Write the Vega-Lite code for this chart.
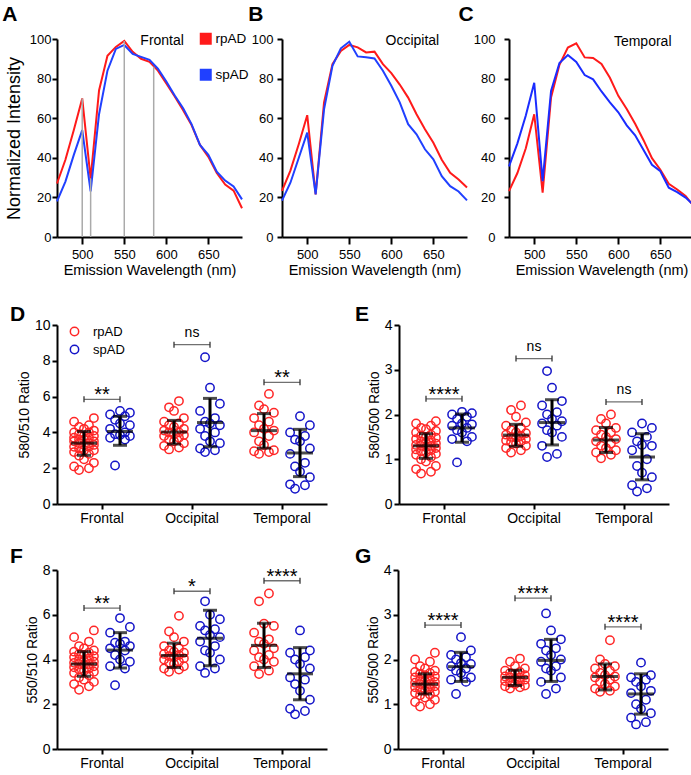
{
"$schema": "https://vega.github.io/schema/vega-lite/v6.json",
"padding": {"left": 2, "top": 4, "right": 0, "bottom": 0},
"config": {
  "view": {"stroke": null},
  "font": "Liberation Sans",
  "axis": {"grid": false, "labelOverlap": false, "domainColor": "black", "tickColor": "black", "domainWidth": 2, "tickWidth": 2, "labelColor": "black", "titleColor": "black", "titleFontWeight": "normal"},
  "title": {"anchor": "start", "frame": "group", "fontSize": 21, "fontWeight": "bold", "font": "Liberation Sans", "baseline": "alphabetic", "color": "black"}
},
"datasets": {
  "A": [
    {"group":"rpAD","wl":470,"v":27},{"group":"rpAD","wl":480,"v":39},{"group":"rpAD","wl":490,"v":54},{"group":"rpAD","wl":500,"v":70},{"group":"rpAD","wl":510,"v":29.5},{"group":"rpAD","wl":520,"v":74},{"group":"rpAD","wl":530,"v":91.5},{"group":"rpAD","wl":540,"v":96},{"group":"rpAD","wl":550,"v":99},{"group":"rpAD","wl":560,"v":93.5},{"group":"rpAD","wl":570,"v":90},{"group":"rpAD","wl":580,"v":88.5},{"group":"rpAD","wl":590,"v":84},{"group":"rpAD","wl":600,"v":77.5},{"group":"rpAD","wl":610,"v":71},{"group":"rpAD","wl":620,"v":64},{"group":"rpAD","wl":630,"v":56.5},{"group":"rpAD","wl":640,"v":46.5},{"group":"rpAD","wl":650,"v":40.5},{"group":"rpAD","wl":660,"v":32.3},{"group":"rpAD","wl":670,"v":26.5},{"group":"rpAD","wl":680,"v":23.4},{"group":"rpAD","wl":690,"v":14.5},
    {"group":"spAD","wl":470,"v":18},{"group":"spAD","wl":480,"v":28},{"group":"spAD","wl":490,"v":41.5},{"group":"spAD","wl":500,"v":54},{"group":"spAD","wl":510,"v":23},{"group":"spAD","wl":520,"v":62},{"group":"spAD","wl":530,"v":84},{"group":"spAD","wl":540,"v":95},{"group":"spAD","wl":550,"v":97},{"group":"spAD","wl":560,"v":92.5},{"group":"spAD","wl":570,"v":91},{"group":"spAD","wl":580,"v":89.5},{"group":"spAD","wl":590,"v":85},{"group":"spAD","wl":600,"v":78.5},{"group":"spAD","wl":610,"v":71.5},{"group":"spAD","wl":620,"v":65},{"group":"spAD","wl":630,"v":57},{"group":"spAD","wl":640,"v":46.5},{"group":"spAD","wl":650,"v":41.5},{"group":"spAD","wl":660,"v":33},{"group":"spAD","wl":670,"v":28.5},{"group":"spAD","wl":680,"v":25.5},{"group":"spAD","wl":690,"v":19}
  ],
  "Amarks": [{"wl":500,"top":70},{"wl":510,"top":29.5},{"wl":550,"top":99},{"wl":585,"top":86}],
  "B": [
    {"group":"rpAD","wl":470,"v":23.3},{"group":"rpAD","wl":480,"v":33.5},{"group":"rpAD","wl":490,"v":47},{"group":"rpAD","wl":500,"v":61.5},{"group":"rpAD","wl":510,"v":21.5},{"group":"rpAD","wl":520,"v":68},{"group":"rpAD","wl":530,"v":87.3},{"group":"rpAD","wl":540,"v":94},{"group":"rpAD","wl":550,"v":97},{"group":"rpAD","wl":560,"v":95.8},{"group":"rpAD","wl":570,"v":93.2},{"group":"rpAD","wl":580,"v":93.6},{"group":"rpAD","wl":590,"v":87.3},{"group":"rpAD","wl":600,"v":82.8},{"group":"rpAD","wl":610,"v":77},{"group":"rpAD","wl":620,"v":70.4},{"group":"rpAD","wl":630,"v":62},{"group":"rpAD","wl":640,"v":54.4},{"group":"rpAD","wl":650,"v":47.6},{"group":"rpAD","wl":660,"v":39},{"group":"rpAD","wl":670,"v":32.4},{"group":"rpAD","wl":680,"v":29},{"group":"rpAD","wl":690,"v":25},
    {"group":"spAD","wl":470,"v":18.4},{"group":"spAD","wl":480,"v":27.4},{"group":"spAD","wl":490,"v":40},{"group":"spAD","wl":500,"v":52.7},{"group":"spAD","wl":510,"v":21.5},{"group":"spAD","wl":520,"v":64.5},{"group":"spAD","wl":530,"v":86.5},{"group":"spAD","wl":540,"v":95.3},{"group":"spAD","wl":550,"v":98.6},{"group":"spAD","wl":560,"v":91.2},{"group":"spAD","wl":570,"v":90.8},{"group":"spAD","wl":580,"v":90.2},{"group":"spAD","wl":590,"v":84},{"group":"spAD","wl":600,"v":76.4},{"group":"spAD","wl":610,"v":68},{"group":"spAD","wl":620,"v":57},{"group":"spAD","wl":630,"v":51.9},{"group":"spAD","wl":640,"v":44.3},{"group":"spAD","wl":650,"v":39.2},{"group":"spAD","wl":660,"v":30.7},{"group":"spAD","wl":670,"v":25.7},{"group":"spAD","wl":680,"v":23},{"group":"spAD","wl":690,"v":18.5}
  ],
  "C": [
    {"group":"rpAD","wl":470,"v":23.2},{"group":"rpAD","wl":480,"v":32.3},{"group":"rpAD","wl":490,"v":44.8},{"group":"rpAD","wl":500,"v":62},{"group":"rpAD","wl":510,"v":22.4},{"group":"rpAD","wl":520,"v":70.5},{"group":"rpAD","wl":530,"v":87},{"group":"rpAD","wl":540,"v":95.7},{"group":"rpAD","wl":550,"v":97.8},{"group":"rpAD","wl":560,"v":90.7},{"group":"rpAD","wl":570,"v":90.4},{"group":"rpAD","wl":580,"v":87.4},{"group":"rpAD","wl":590,"v":80.4},{"group":"rpAD","wl":600,"v":71.3},{"group":"rpAD","wl":610,"v":64.7},{"group":"rpAD","wl":620,"v":57.2},{"group":"rpAD","wl":630,"v":48.9},{"group":"rpAD","wl":640,"v":39.8},{"group":"rpAD","wl":650,"v":34},{"group":"rpAD","wl":660,"v":26.9},{"group":"rpAD","wl":670,"v":24},{"group":"rpAD","wl":680,"v":20.7},{"group":"rpAD","wl":690,"v":15.4},
    {"group":"spAD","wl":470,"v":35.7},{"group":"spAD","wl":480,"v":47.3},{"group":"spAD","wl":490,"v":61.4},{"group":"spAD","wl":500,"v":77.9},{"group":"spAD","wl":510,"v":28.2},{"group":"spAD","wl":520,"v":73.8},{"group":"spAD","wl":530,"v":87.9},{"group":"spAD","wl":540,"v":91.9},{"group":"spAD","wl":550,"v":88.4},{"group":"spAD","wl":560,"v":81.8},{"group":"spAD","wl":570,"v":79.6},{"group":"spAD","wl":580,"v":73.5},{"group":"spAD","wl":590,"v":68},{"group":"spAD","wl":600,"v":63},{"group":"spAD","wl":610,"v":56.4},{"group":"spAD","wl":620,"v":51.4},{"group":"spAD","wl":630,"v":43.9},{"group":"spAD","wl":640,"v":36.5},{"group":"spAD","wl":650,"v":33.2},{"group":"spAD","wl":660,"v":24.9},{"group":"spAD","wl":670,"v":22.7},{"group":"spAD","wl":680,"v":19.9},{"group":"spAD","wl":690,"v":16}
  ],
  "D": [
    {"region":"Frontal","group":"rpAD","value":1.9},{"region":"Frontal","group":"rpAD","value":2.0},{"region":"Frontal","group":"rpAD","value":2.1},{"region":"Frontal","group":"rpAD","value":2.3},{"region":"Frontal","group":"rpAD","value":2.5},{"region":"Frontal","group":"rpAD","value":2.7},{"region":"Frontal","group":"rpAD","value":2.8},{"region":"Frontal","group":"rpAD","value":2.9},{"region":"Frontal","group":"rpAD","value":3.0},{"region":"Frontal","group":"rpAD","value":3.0},{"region":"Frontal","group":"rpAD","value":3.1},{"region":"Frontal","group":"rpAD","value":3.2},{"region":"Frontal","group":"rpAD","value":3.2},{"region":"Frontal","group":"rpAD","value":3.3},{"region":"Frontal","group":"rpAD","value":3.3},{"region":"Frontal","group":"rpAD","value":3.4},{"region":"Frontal","group":"rpAD","value":3.4},{"region":"Frontal","group":"rpAD","value":3.5},{"region":"Frontal","group":"rpAD","value":3.5},{"region":"Frontal","group":"rpAD","value":3.6},{"region":"Frontal","group":"rpAD","value":3.6},{"region":"Frontal","group":"rpAD","value":3.7},{"region":"Frontal","group":"rpAD","value":3.7},{"region":"Frontal","group":"rpAD","value":3.8},{"region":"Frontal","group":"rpAD","value":3.8},{"region":"Frontal","group":"rpAD","value":3.9},{"region":"Frontal","group":"rpAD","value":4.0},{"region":"Frontal","group":"rpAD","value":4.0},{"region":"Frontal","group":"rpAD","value":4.1},{"region":"Frontal","group":"rpAD","value":4.2},{"region":"Frontal","group":"rpAD","value":4.3},{"region":"Frontal","group":"rpAD","value":4.4},{"region":"Frontal","group":"rpAD","value":4.6},{"region":"Frontal","group":"rpAD","value":4.8},
    {"region":"Frontal","group":"spAD","value":2.15},{"region":"Frontal","group":"spAD","value":3.6},{"region":"Frontal","group":"spAD","value":3.7},{"region":"Frontal","group":"spAD","value":3.8},{"region":"Frontal","group":"spAD","value":3.85},{"region":"Frontal","group":"spAD","value":3.9},{"region":"Frontal","group":"spAD","value":4.0},{"region":"Frontal","group":"spAD","value":4.2},{"region":"Frontal","group":"spAD","value":4.4},{"region":"Frontal","group":"spAD","value":4.5},{"region":"Frontal","group":"spAD","value":4.7},{"region":"Frontal","group":"spAD","value":4.9},{"region":"Frontal","group":"spAD","value":5.0},{"region":"Frontal","group":"spAD","value":5.1},{"region":"Frontal","group":"spAD","value":5.2},
    {"region":"Occipital","group":"rpAD","value":3.05},{"region":"Occipital","group":"rpAD","value":3.15},{"region":"Occipital","group":"rpAD","value":3.25},{"region":"Occipital","group":"rpAD","value":3.4},{"region":"Occipital","group":"rpAD","value":3.5},{"region":"Occipital","group":"rpAD","value":3.6},{"region":"Occipital","group":"rpAD","value":3.7},{"region":"Occipital","group":"rpAD","value":3.8},{"region":"Occipital","group":"rpAD","value":3.85},{"region":"Occipital","group":"rpAD","value":3.9},{"region":"Occipital","group":"rpAD","value":4.0},{"region":"Occipital","group":"rpAD","value":4.0},{"region":"Occipital","group":"rpAD","value":4.1},{"region":"Occipital","group":"rpAD","value":4.2},{"region":"Occipital","group":"rpAD","value":4.3},{"region":"Occipital","group":"rpAD","value":4.4},{"region":"Occipital","group":"rpAD","value":4.5},{"region":"Occipital","group":"rpAD","value":4.6},{"region":"Occipital","group":"rpAD","value":4.8},{"region":"Occipital","group":"rpAD","value":5.2},{"region":"Occipital","group":"rpAD","value":5.4},{"region":"Occipital","group":"rpAD","value":5.75},
    {"region":"Occipital","group":"spAD","value":2.9},{"region":"Occipital","group":"spAD","value":3.0},{"region":"Occipital","group":"spAD","value":3.1},{"region":"Occipital","group":"spAD","value":3.4},{"region":"Occipital","group":"spAD","value":3.5},{"region":"Occipital","group":"spAD","value":3.8},{"region":"Occipital","group":"spAD","value":4.0},{"region":"Occipital","group":"spAD","value":4.2},{"region":"Occipital","group":"spAD","value":4.4},{"region":"Occipital","group":"spAD","value":4.5},{"region":"Occipital","group":"spAD","value":4.6},{"region":"Occipital","group":"spAD","value":4.8},{"region":"Occipital","group":"spAD","value":5.2},{"region":"Occipital","group":"spAD","value":5.6},{"region":"Occipital","group":"spAD","value":6.5},{"region":"Occipital","group":"spAD","value":8.2},
    {"region":"Temporal","group":"rpAD","value":2.8},{"region":"Temporal","group":"rpAD","value":2.9},{"region":"Temporal","group":"rpAD","value":2.95},{"region":"Temporal","group":"rpAD","value":3.0},{"region":"Temporal","group":"rpAD","value":3.3},{"region":"Temporal","group":"rpAD","value":3.5},{"region":"Temporal","group":"rpAD","value":3.8},{"region":"Temporal","group":"rpAD","value":4.0},{"region":"Temporal","group":"rpAD","value":4.1},{"region":"Temporal","group":"rpAD","value":4.2},{"region":"Temporal","group":"rpAD","value":4.4},{"region":"Temporal","group":"rpAD","value":4.6},{"region":"Temporal","group":"rpAD","value":4.8},{"region":"Temporal","group":"rpAD","value":5.1},{"region":"Temporal","group":"rpAD","value":5.3},{"region":"Temporal","group":"rpAD","value":5.5},{"region":"Temporal","group":"rpAD","value":6.15},
    {"region":"Temporal","group":"spAD","value":0.85},{"region":"Temporal","group":"spAD","value":1.05},{"region":"Temporal","group":"spAD","value":1.1},{"region":"Temporal","group":"spAD","value":1.5},{"region":"Temporal","group":"spAD","value":1.8},{"region":"Temporal","group":"spAD","value":2.1},{"region":"Temporal","group":"spAD","value":2.3},{"region":"Temporal","group":"spAD","value":2.8},{"region":"Temporal","group":"spAD","value":3.1},{"region":"Temporal","group":"spAD","value":3.5},{"region":"Temporal","group":"spAD","value":3.6},{"region":"Temporal","group":"spAD","value":3.8},{"region":"Temporal","group":"spAD","value":4.0},{"region":"Temporal","group":"spAD","value":4.4},{"region":"Temporal","group":"spAD","value":4.9}
  ],
  "Dsum": [
    {"region":"Frontal","group":"rpAD","mean":3.4,"lo":2.72,"hi":4.05},{"region":"Frontal","group":"spAD","mean":4.05,"lo":3.28,"hi":4.9},
    {"region":"Occipital","group":"rpAD","mean":4.02,"lo":3.35,"hi":4.67},{"region":"Occipital","group":"spAD","mean":4.55,"lo":3.2,"hi":5.9},
    {"region":"Temporal","group":"rpAD","mean":4.1,"lo":3.12,"hi":5.05},{"region":"Temporal","group":"spAD","mean":2.85,"lo":1.53,"hi":4.17}
  ],
  "Dbr": [{"region":"Frontal","level":5.85,"label":"**"},{"region":"Occipital","level":8.9,"label":"ns"},{"region":"Temporal","level":6.8,"label":"**"}],
  "E": [
    {"region":"Frontal","group":"rpAD","value":0.68},{"region":"Frontal","group":"rpAD","value":0.72},{"region":"Frontal","group":"rpAD","value":0.78},{"region":"Frontal","group":"rpAD","value":0.85},{"region":"Frontal","group":"rpAD","value":0.95},{"region":"Frontal","group":"rpAD","value":1.0},{"region":"Frontal","group":"rpAD","value":1.05},{"region":"Frontal","group":"rpAD","value":1.1},{"region":"Frontal","group":"rpAD","value":1.12},{"region":"Frontal","group":"rpAD","value":1.15},{"region":"Frontal","group":"rpAD","value":1.18},{"region":"Frontal","group":"rpAD","value":1.2},{"region":"Frontal","group":"rpAD","value":1.22},{"region":"Frontal","group":"rpAD","value":1.25},{"region":"Frontal","group":"rpAD","value":1.27},{"region":"Frontal","group":"rpAD","value":1.3},{"region":"Frontal","group":"rpAD","value":1.3},{"region":"Frontal","group":"rpAD","value":1.32},{"region":"Frontal","group":"rpAD","value":1.35},{"region":"Frontal","group":"rpAD","value":1.37},{"region":"Frontal","group":"rpAD","value":1.4},{"region":"Frontal","group":"rpAD","value":1.42},{"region":"Frontal","group":"rpAD","value":1.45},{"region":"Frontal","group":"rpAD","value":1.48},{"region":"Frontal","group":"rpAD","value":1.5},{"region":"Frontal","group":"rpAD","value":1.52},{"region":"Frontal","group":"rpAD","value":1.55},{"region":"Frontal","group":"rpAD","value":1.6},{"region":"Frontal","group":"rpAD","value":1.63},{"region":"Frontal","group":"rpAD","value":1.67},{"region":"Frontal","group":"rpAD","value":1.7},{"region":"Frontal","group":"rpAD","value":1.75},{"region":"Frontal","group":"rpAD","value":1.8},{"region":"Frontal","group":"rpAD","value":1.85},
    {"region":"Frontal","group":"spAD","value":0.93},{"region":"Frontal","group":"spAD","value":1.4},{"region":"Frontal","group":"spAD","value":1.45},{"region":"Frontal","group":"spAD","value":1.5},{"region":"Frontal","group":"spAD","value":1.6},{"region":"Frontal","group":"spAD","value":1.65},{"region":"Frontal","group":"spAD","value":1.7},{"region":"Frontal","group":"spAD","value":1.75},{"region":"Frontal","group":"spAD","value":1.78},{"region":"Frontal","group":"spAD","value":1.8},{"region":"Frontal","group":"spAD","value":1.9},{"region":"Frontal","group":"spAD","value":1.95},{"region":"Frontal","group":"spAD","value":2.0},{"region":"Frontal","group":"spAD","value":2.03},{"region":"Frontal","group":"spAD","value":2.06},
    {"region":"Occipital","group":"rpAD","value":1.15},{"region":"Occipital","group":"rpAD","value":1.2},{"region":"Occipital","group":"rpAD","value":1.25},{"region":"Occipital","group":"rpAD","value":1.3},{"region":"Occipital","group":"rpAD","value":1.35},{"region":"Occipital","group":"rpAD","value":1.38},{"region":"Occipital","group":"rpAD","value":1.4},{"region":"Occipital","group":"rpAD","value":1.42},{"region":"Occipital","group":"rpAD","value":1.45},{"region":"Occipital","group":"rpAD","value":1.48},{"region":"Occipital","group":"rpAD","value":1.5},{"region":"Occipital","group":"rpAD","value":1.52},{"region":"Occipital","group":"rpAD","value":1.55},{"region":"Occipital","group":"rpAD","value":1.58},{"region":"Occipital","group":"rpAD","value":1.6},{"region":"Occipital","group":"rpAD","value":1.65},{"region":"Occipital","group":"rpAD","value":1.7},{"region":"Occipital","group":"rpAD","value":1.75},{"region":"Occipital","group":"rpAD","value":1.82},{"region":"Occipital","group":"rpAD","value":1.95},{"region":"Occipital","group":"rpAD","value":2.1},{"region":"Occipital","group":"rpAD","value":2.2},
    {"region":"Occipital","group":"spAD","value":1.05},{"region":"Occipital","group":"spAD","value":1.12},{"region":"Occipital","group":"spAD","value":1.3},{"region":"Occipital","group":"spAD","value":1.5},{"region":"Occipital","group":"spAD","value":1.6},{"region":"Occipital","group":"spAD","value":1.65},{"region":"Occipital","group":"spAD","value":1.75},{"region":"Occipital","group":"spAD","value":1.8},{"region":"Occipital","group":"spAD","value":1.85},{"region":"Occipital","group":"spAD","value":1.9},{"region":"Occipital","group":"spAD","value":2.0},{"region":"Occipital","group":"spAD","value":2.05},{"region":"Occipital","group":"spAD","value":2.2},{"region":"Occipital","group":"spAD","value":2.3},{"region":"Occipital","group":"spAD","value":2.6},{"region":"Occipital","group":"spAD","value":2.97},
    {"region":"Temporal","group":"rpAD","value":1.02},{"region":"Temporal","group":"rpAD","value":1.1},{"region":"Temporal","group":"rpAD","value":1.15},{"region":"Temporal","group":"rpAD","value":1.2},{"region":"Temporal","group":"rpAD","value":1.25},{"region":"Temporal","group":"rpAD","value":1.3},{"region":"Temporal","group":"rpAD","value":1.35},{"region":"Temporal","group":"rpAD","value":1.4},{"region":"Temporal","group":"rpAD","value":1.45},{"region":"Temporal","group":"rpAD","value":1.5},{"region":"Temporal","group":"rpAD","value":1.55},{"region":"Temporal","group":"rpAD","value":1.6},{"region":"Temporal","group":"rpAD","value":1.65},{"region":"Temporal","group":"rpAD","value":1.7},{"region":"Temporal","group":"rpAD","value":1.8},{"region":"Temporal","group":"rpAD","value":1.9},{"region":"Temporal","group":"rpAD","value":2.0},
    {"region":"Temporal","group":"spAD","value":0.28},{"region":"Temporal","group":"spAD","value":0.35},{"region":"Temporal","group":"spAD","value":0.42},{"region":"Temporal","group":"spAD","value":0.6},{"region":"Temporal","group":"spAD","value":0.7},{"region":"Temporal","group":"spAD","value":0.85},{"region":"Temporal","group":"spAD","value":1.0},{"region":"Temporal","group":"spAD","value":1.2},{"region":"Temporal","group":"spAD","value":1.3},{"region":"Temporal","group":"spAD","value":1.32},{"region":"Temporal","group":"spAD","value":1.4},{"region":"Temporal","group":"spAD","value":1.5},{"region":"Temporal","group":"spAD","value":1.6},{"region":"Temporal","group":"spAD","value":1.7},{"region":"Temporal","group":"spAD","value":1.8}
  ],
  "Esum": [
    {"region":"Frontal","group":"rpAD","mean":1.3,"lo":1.02,"hi":1.57},{"region":"Frontal","group":"spAD","mean":1.7,"lo":1.38,"hi":2.01},
    {"region":"Occipital","group":"rpAD","mean":1.54,"lo":1.29,"hi":1.78},{"region":"Occipital","group":"spAD","mean":1.82,"lo":1.32,"hi":2.33},
    {"region":"Temporal","group":"rpAD","mean":1.43,"lo":1.15,"hi":1.71},{"region":"Temporal","group":"spAD","mean":1.05,"lo":0.54,"hi":1.57}
  ],
  "Ebr": [{"region":"Frontal","level":2.35,"label":"****"},{"region":"Occipital","level":3.25,"label":"ns"},{"region":"Temporal","level":2.28,"label":"ns"}],
  "F": [
    {"region":"Frontal","group":"rpAD","value":2.65},{"region":"Frontal","group":"rpAD","value":2.8},{"region":"Frontal","group":"rpAD","value":2.9},{"region":"Frontal","group":"rpAD","value":3.0},{"region":"Frontal","group":"rpAD","value":3.1},{"region":"Frontal","group":"rpAD","value":3.2},{"region":"Frontal","group":"rpAD","value":3.3},{"region":"Frontal","group":"rpAD","value":3.4},{"region":"Frontal","group":"rpAD","value":3.45},{"region":"Frontal","group":"rpAD","value":3.5},{"region":"Frontal","group":"rpAD","value":3.55},{"region":"Frontal","group":"rpAD","value":3.6},{"region":"Frontal","group":"rpAD","value":3.65},{"region":"Frontal","group":"rpAD","value":3.7},{"region":"Frontal","group":"rpAD","value":3.75},{"region":"Frontal","group":"rpAD","value":3.8},{"region":"Frontal","group":"rpAD","value":3.8},{"region":"Frontal","group":"rpAD","value":3.85},{"region":"Frontal","group":"rpAD","value":3.9},{"region":"Frontal","group":"rpAD","value":3.95},{"region":"Frontal","group":"rpAD","value":4.0},{"region":"Frontal","group":"rpAD","value":4.05},{"region":"Frontal","group":"rpAD","value":4.1},{"region":"Frontal","group":"rpAD","value":4.15},{"region":"Frontal","group":"rpAD","value":4.2},{"region":"Frontal","group":"rpAD","value":4.25},{"region":"Frontal","group":"rpAD","value":4.3},{"region":"Frontal","group":"rpAD","value":4.35},{"region":"Frontal","group":"rpAD","value":4.4},{"region":"Frontal","group":"rpAD","value":4.5},{"region":"Frontal","group":"rpAD","value":4.6},{"region":"Frontal","group":"rpAD","value":4.8},{"region":"Frontal","group":"rpAD","value":5.0},{"region":"Frontal","group":"rpAD","value":5.3},
    {"region":"Frontal","group":"spAD","value":2.85},{"region":"Frontal","group":"spAD","value":3.6},{"region":"Frontal","group":"spAD","value":3.7},{"region":"Frontal","group":"spAD","value":3.9},{"region":"Frontal","group":"spAD","value":4.0},{"region":"Frontal","group":"spAD","value":4.2},{"region":"Frontal","group":"spAD","value":4.4},{"region":"Frontal","group":"spAD","value":4.5},{"region":"Frontal","group":"spAD","value":4.6},{"region":"Frontal","group":"spAD","value":4.7},{"region":"Frontal","group":"spAD","value":4.75},{"region":"Frontal","group":"spAD","value":4.8},{"region":"Frontal","group":"spAD","value":5.2},{"region":"Frontal","group":"spAD","value":5.45},{"region":"Frontal","group":"spAD","value":5.85},
    {"region":"Occipital","group":"rpAD","value":3.45},{"region":"Occipital","group":"rpAD","value":3.55},{"region":"Occipital","group":"rpAD","value":3.6},{"region":"Occipital","group":"rpAD","value":3.7},{"region":"Occipital","group":"rpAD","value":3.8},{"region":"Occipital","group":"rpAD","value":3.85},{"region":"Occipital","group":"rpAD","value":3.9},{"region":"Occipital","group":"rpAD","value":4.0},{"region":"Occipital","group":"rpAD","value":4.05},{"region":"Occipital","group":"rpAD","value":4.1},{"region":"Occipital","group":"rpAD","value":4.15},{"region":"Occipital","group":"rpAD","value":4.2},{"region":"Occipital","group":"rpAD","value":4.25},{"region":"Occipital","group":"rpAD","value":4.3},{"region":"Occipital","group":"rpAD","value":4.35},{"region":"Occipital","group":"rpAD","value":4.4},{"region":"Occipital","group":"rpAD","value":4.5},{"region":"Occipital","group":"rpAD","value":4.6},{"region":"Occipital","group":"rpAD","value":4.8},{"region":"Occipital","group":"rpAD","value":5.0},{"region":"Occipital","group":"rpAD","value":5.25},{"region":"Occipital","group":"rpAD","value":5.95},
    {"region":"Occipital","group":"spAD","value":3.4},{"region":"Occipital","group":"spAD","value":3.6},{"region":"Occipital","group":"spAD","value":3.7},{"region":"Occipital","group":"spAD","value":4.0},{"region":"Occipital","group":"spAD","value":4.3},{"region":"Occipital","group":"spAD","value":4.4},{"region":"Occipital","group":"spAD","value":4.6},{"region":"Occipital","group":"spAD","value":4.8},{"region":"Occipital","group":"spAD","value":5.0},{"region":"Occipital","group":"spAD","value":5.1},{"region":"Occipital","group":"spAD","value":5.3},{"region":"Occipital","group":"spAD","value":5.35},{"region":"Occipital","group":"spAD","value":5.5},{"region":"Occipital","group":"spAD","value":5.8},{"region":"Occipital","group":"spAD","value":6.0},{"region":"Occipital","group":"spAD","value":6.6},
    {"region":"Temporal","group":"rpAD","value":3.35},{"region":"Temporal","group":"rpAD","value":3.5},{"region":"Temporal","group":"rpAD","value":3.7},{"region":"Temporal","group":"rpAD","value":3.9},{"region":"Temporal","group":"rpAD","value":4.0},{"region":"Temporal","group":"rpAD","value":4.1},{"region":"Temporal","group":"rpAD","value":4.2},{"region":"Temporal","group":"rpAD","value":4.4},{"region":"Temporal","group":"rpAD","value":4.5},{"region":"Temporal","group":"rpAD","value":4.7},{"region":"Temporal","group":"rpAD","value":4.8},{"region":"Temporal","group":"rpAD","value":4.9},{"region":"Temporal","group":"rpAD","value":5.2},{"region":"Temporal","group":"rpAD","value":5.5},{"region":"Temporal","group":"rpAD","value":5.6},{"region":"Temporal","group":"rpAD","value":6.6},{"region":"Temporal","group":"rpAD","value":6.95},
    {"region":"Temporal","group":"spAD","value":1.55},{"region":"Temporal","group":"spAD","value":1.7},{"region":"Temporal","group":"spAD","value":1.8},{"region":"Temporal","group":"spAD","value":2.2},{"region":"Temporal","group":"spAD","value":2.6},{"region":"Temporal","group":"spAD","value":2.9},{"region":"Temporal","group":"spAD","value":3.1},{"region":"Temporal","group":"spAD","value":3.2},{"region":"Temporal","group":"spAD","value":3.6},{"region":"Temporal","group":"spAD","value":3.8},{"region":"Temporal","group":"spAD","value":4.0},{"region":"Temporal","group":"spAD","value":4.1},{"region":"Temporal","group":"spAD","value":4.3},{"region":"Temporal","group":"spAD","value":4.4},{"region":"Temporal","group":"spAD","value":5.3}
  ],
  "Fsum": [
    {"region":"Frontal","group":"rpAD","mean":3.8,"lo":3.25,"hi":4.35},{"region":"Frontal","group":"spAD","mean":4.42,"lo":3.62,"hi":5.2},
    {"region":"Occipital","group":"rpAD","mean":4.18,"lo":3.64,"hi":4.73},{"region":"Occipital","group":"spAD","mean":4.95,"lo":3.72,"hi":6.2},
    {"region":"Temporal","group":"rpAD","mean":4.63,"lo":3.64,"hi":5.62},{"region":"Temporal","group":"spAD","mean":3.36,"lo":2.2,"hi":4.53}
  ],
  "Fbr": [{"region":"Frontal","level":6.3,"label":"**"},{"region":"Occipital","level":7.05,"label":"*"},{"region":"Temporal","level":7.52,"label":"****"}],
  "G": [
    {"region":"Frontal","group":"rpAD","value":0.95},{"region":"Frontal","group":"rpAD","value":1.0},{"region":"Frontal","group":"rpAD","value":1.05},{"region":"Frontal","group":"rpAD","value":1.1},{"region":"Frontal","group":"rpAD","value":1.15},{"region":"Frontal","group":"rpAD","value":1.2},{"region":"Frontal","group":"rpAD","value":1.22},{"region":"Frontal","group":"rpAD","value":1.25},{"region":"Frontal","group":"rpAD","value":1.28},{"region":"Frontal","group":"rpAD","value":1.3},{"region":"Frontal","group":"rpAD","value":1.32},{"region":"Frontal","group":"rpAD","value":1.35},{"region":"Frontal","group":"rpAD","value":1.38},{"region":"Frontal","group":"rpAD","value":1.4},{"region":"Frontal","group":"rpAD","value":1.42},{"region":"Frontal","group":"rpAD","value":1.45},{"region":"Frontal","group":"rpAD","value":1.45},{"region":"Frontal","group":"rpAD","value":1.48},{"region":"Frontal","group":"rpAD","value":1.5},{"region":"Frontal","group":"rpAD","value":1.52},{"region":"Frontal","group":"rpAD","value":1.55},{"region":"Frontal","group":"rpAD","value":1.57},{"region":"Frontal","group":"rpAD","value":1.6},{"region":"Frontal","group":"rpAD","value":1.62},{"region":"Frontal","group":"rpAD","value":1.65},{"region":"Frontal","group":"rpAD","value":1.68},{"region":"Frontal","group":"rpAD","value":1.7},{"region":"Frontal","group":"rpAD","value":1.72},{"region":"Frontal","group":"rpAD","value":1.75},{"region":"Frontal","group":"rpAD","value":1.8},{"region":"Frontal","group":"rpAD","value":1.85},{"region":"Frontal","group":"rpAD","value":1.95},{"region":"Frontal","group":"rpAD","value":2.0},{"region":"Frontal","group":"rpAD","value":2.15},
    {"region":"Frontal","group":"spAD","value":1.23},{"region":"Frontal","group":"spAD","value":1.5},{"region":"Frontal","group":"spAD","value":1.55},{"region":"Frontal","group":"spAD","value":1.6},{"region":"Frontal","group":"spAD","value":1.7},{"region":"Frontal","group":"spAD","value":1.75},{"region":"Frontal","group":"spAD","value":1.8},{"region":"Frontal","group":"spAD","value":1.85},{"region":"Frontal","group":"spAD","value":1.9},{"region":"Frontal","group":"spAD","value":1.92},{"region":"Frontal","group":"spAD","value":2.0},{"region":"Frontal","group":"spAD","value":2.05},{"region":"Frontal","group":"spAD","value":2.1},{"region":"Frontal","group":"spAD","value":2.2},{"region":"Frontal","group":"spAD","value":2.5},
    {"region":"Occipital","group":"rpAD","value":1.35},{"region":"Occipital","group":"rpAD","value":1.38},{"region":"Occipital","group":"rpAD","value":1.4},{"region":"Occipital","group":"rpAD","value":1.42},{"region":"Occipital","group":"rpAD","value":1.45},{"region":"Occipital","group":"rpAD","value":1.48},{"region":"Occipital","group":"rpAD","value":1.5},{"region":"Occipital","group":"rpAD","value":1.52},{"region":"Occipital","group":"rpAD","value":1.55},{"region":"Occipital","group":"rpAD","value":1.57},{"region":"Occipital","group":"rpAD","value":1.6},{"region":"Occipital","group":"rpAD","value":1.6},{"region":"Occipital","group":"rpAD","value":1.62},{"region":"Occipital","group":"rpAD","value":1.65},{"region":"Occipital","group":"rpAD","value":1.68},{"region":"Occipital","group":"rpAD","value":1.7},{"region":"Occipital","group":"rpAD","value":1.72},{"region":"Occipital","group":"rpAD","value":1.75},{"region":"Occipital","group":"rpAD","value":1.8},{"region":"Occipital","group":"rpAD","value":1.85},{"region":"Occipital","group":"rpAD","value":1.95},{"region":"Occipital","group":"rpAD","value":2.02},
    {"region":"Occipital","group":"spAD","value":1.23},{"region":"Occipital","group":"spAD","value":1.35},{"region":"Occipital","group":"spAD","value":1.5},{"region":"Occipital","group":"spAD","value":1.6},{"region":"Occipital","group":"spAD","value":1.75},{"region":"Occipital","group":"spAD","value":1.8},{"region":"Occipital","group":"spAD","value":1.85},{"region":"Occipital","group":"spAD","value":1.95},{"region":"Occipital","group":"spAD","value":2.0},{"region":"Occipital","group":"spAD","value":2.1},{"region":"Occipital","group":"spAD","value":2.2},{"region":"Occipital","group":"spAD","value":2.25},{"region":"Occipital","group":"spAD","value":2.35},{"region":"Occipital","group":"spAD","value":2.45},{"region":"Occipital","group":"spAD","value":2.65},{"region":"Occipital","group":"spAD","value":3.03},
    {"region":"Temporal","group":"rpAD","value":1.28},{"region":"Temporal","group":"rpAD","value":1.3},{"region":"Temporal","group":"rpAD","value":1.35},{"region":"Temporal","group":"rpAD","value":1.4},{"region":"Temporal","group":"rpAD","value":1.45},{"region":"Temporal","group":"rpAD","value":1.5},{"region":"Temporal","group":"rpAD","value":1.55},{"region":"Temporal","group":"rpAD","value":1.6},{"region":"Temporal","group":"rpAD","value":1.62},{"region":"Temporal","group":"rpAD","value":1.65},{"region":"Temporal","group":"rpAD","value":1.7},{"region":"Temporal","group":"rpAD","value":1.75},{"region":"Temporal","group":"rpAD","value":1.8},{"region":"Temporal","group":"rpAD","value":1.85},{"region":"Temporal","group":"rpAD","value":1.9},{"region":"Temporal","group":"rpAD","value":2.0},{"region":"Temporal","group":"rpAD","value":2.43},
    {"region":"Temporal","group":"spAD","value":0.55},{"region":"Temporal","group":"spAD","value":0.6},{"region":"Temporal","group":"spAD","value":0.7},{"region":"Temporal","group":"spAD","value":0.8},{"region":"Temporal","group":"spAD","value":0.9},{"region":"Temporal","group":"spAD","value":1.0},{"region":"Temporal","group":"spAD","value":1.1},{"region":"Temporal","group":"spAD","value":1.25},{"region":"Temporal","group":"spAD","value":1.3},{"region":"Temporal","group":"spAD","value":1.4},{"region":"Temporal","group":"spAD","value":1.5},{"region":"Temporal","group":"spAD","value":1.55},{"region":"Temporal","group":"spAD","value":1.6},{"region":"Temporal","group":"spAD","value":1.65},{"region":"Temporal","group":"spAD","value":1.93}
  ],
  "Gsum": [
    {"region":"Frontal","group":"rpAD","mean":1.45,"lo":1.23,"hi":1.68},{"region":"Frontal","group":"spAD","mean":1.84,"lo":1.51,"hi":2.16},
    {"region":"Occipital","group":"rpAD","mean":1.6,"lo":1.42,"hi":1.76},{"region":"Occipital","group":"spAD","mean":1.98,"lo":1.51,"hi":2.45},
    {"region":"Temporal","group":"rpAD","mean":1.62,"lo":1.32,"hi":1.9},{"region":"Temporal","group":"spAD","mean":1.23,"lo":0.78,"hi":1.68}
  ],
  "Gbr": [{"region":"Frontal","level":2.77,"label":"****"},{"region":"Occipital","level":3.37,"label":"****"},{"region":"Temporal","level":2.73,"label":"****"}]
},
"spacing": 27,
"vconcat": [
  {
    "hconcat": [
      {
        "width": 185, "height": 198,
        "layer": [
          {"data": {"name": "A"}, "mark": {"type": "line", "strokeWidth": 2},
           "encoding": {
             "x": {"field": "wl", "type": "quantitative", "scale": {"domain": [470, 690], "nice": false, "zero": false}, "axis": {"values": [500, 550, 600, 650], "tickCount": 12, "format": "d", "labelOverlap": false, "title": "Emission Wavelength (nm)", "titleFontSize": 14.5, "labelFontSize": 13, "tickSize": 7, "labelPadding": 4, "titlePadding": 2}},
             "y": {"field": "v", "type": "quantitative", "scale": {"domain": [0, 100]}, "axis": {"values": [0, 20, 40, 60, 80, 100], "tickCount": 12, "format": "d", "labelOverlap": false, "title": "Normalized Intensity", "titleFontSize": 18, "titlePadding": 6, "labelFontSize": 13, "tickSize": 5, "labelPadding": 1}},
             "color": {"field": "group", "type": "nominal", "scale": {"domain": ["rpAD", "spAD"], "range": ["#ff1a1a", "#2040ff"]}, "legend": {"orient": "none", "legendX": 142, "legendY": -7, "title": null, "symbolType": "square", "symbolSize": 25, "symbolStrokeWidth": 7, "labelFontSize": 13.5, "labelOffset": 3, "rowPadding": 2, "padding": 0}}
           }},
          {"data": {"name": "Amarks"}, "mark": {"type": "rule", "color": "#aaaaaa", "strokeWidth": 1.5},
           "encoding": {"x": {"field": "wl", "type": "quantitative"}, "y": {"field": "top", "type": "quantitative"}, "y2": {"datum": 0}}},
          {"data": {"values": [{}]}, "mark": {"type": "text", "fontSize": 14, "color": "black"},
           "encoding": {"x": {"datum": 595}, "y": {"datum": 99}, "text": {"value": "Frontal"}}},
          {"data": {"values": [{}]}, "mark": {"type": "text", "fontSize": 21, "fontWeight": "bold", "baseline": "alphabetic", "align": "center", "color": "black"},
           "encoding": {"x": {"datum": 414}, "y": {"datum": 109}, "text": {"value": "A"}}}
        ]
      },
      {
        "width": 185, "height": 198,
        "layer": [
          {"data": {"name": "B"}, "mark": {"type": "line", "strokeWidth": 2},
           "encoding": {
             "x": {"field": "wl", "type": "quantitative", "scale": {"domain": [470, 690], "nice": false, "zero": false}, "axis": {"values": [500, 550, 600, 650], "tickCount": 12, "format": "d", "labelOverlap": false, "title": "Emission Wavelength (nm)", "titleFontSize": 14.5, "labelFontSize": 13, "tickSize": 7, "labelPadding": 4, "titlePadding": 2}},
             "y": {"field": "v", "type": "quantitative", "scale": {"domain": [0, 100]}, "axis": {"values": [0, 20, 40, 60, 80, 100], "tickCount": 12, "format": "d", "labelOverlap": false, "title": null, "labelFontSize": 13, "tickSize": 5, "labelPadding": 4}},
             "color": {"field": "group", "type": "nominal", "scale": {"domain": ["rpAD", "spAD"], "range": ["#ff1a1a", "#2040ff"]}, "legend": null}
           }},
          {"data": {"values": [{}]}, "mark": {"type": "text", "fontSize": 14, "color": "black"},
           "encoding": {"x": {"datum": 625}, "y": {"datum": 99}, "text": {"value": "Occipital"}}},
          {"data": {"values": [{}]}, "mark": {"type": "text", "fontSize": 21, "fontWeight": "bold", "baseline": "alphabetic", "align": "center", "color": "black"},
           "encoding": {"x": {"datum": 439}, "y": {"datum": 109}, "text": {"value": "B"}}},
          {"data": {"values": [{}]}, "mark": {"type": "text", "fontSize": 21, "fontWeight": "bold", "baseline": "alphabetic", "align": "center", "color": "black"},
           "encoding": {"x": {"datum": 689}, "y": {"datum": 109}, "text": {"value": "C"}}}
        ]
      },
      {
        "width": 185, "height": 198,
        "layer": [
          {"data": {"name": "C"}, "mark": {"type": "line", "strokeWidth": 2},
           "encoding": {
             "x": {"field": "wl", "type": "quantitative", "scale": {"domain": [470, 690], "nice": false, "zero": false}, "axis": {"values": [500, 550, 600, 650], "tickCount": 12, "format": "d", "labelOverlap": false, "title": "Emission Wavelength (nm)", "titleFontSize": 14.5, "labelFontSize": 13, "tickSize": 7, "labelPadding": 4, "titlePadding": 2}},
             "y": {"field": "v", "type": "quantitative", "scale": {"domain": [0, 100]}, "axis": {"values": [0, 20, 40, 60, 80, 100], "tickCount": 12, "format": "d", "labelOverlap": false, "title": null, "labelFontSize": 13, "tickSize": 5, "labelPadding": 9}},
             "color": {"field": "group", "type": "nominal", "scale": {"domain": ["rpAD", "spAD"], "range": ["#ff1a1a", "#1a2cff"]}, "legend": null}
           }},
          {"data": {"values": [{}]}, "mark": {"type": "text", "fontSize": 14, "color": "black"},
           "encoding": {"x": {"datum": 629}, "y": {"datum": 98.5}, "text": {"value": "Temporal"}}}
        ]
      }
    ],
    "spacing": -1,
    "resolve": {"scale": {"color": "independent", "x": "independent", "y": "independent"}, "legend": {"color": "independent"}}
  },
  {
    "spacing": 21,
    "vconcat": [
      {
        "hconcat": [
          {
            "width": 270, "height": 179,
            "title": {"text": "D", "dx": -47, "offset": -7},
            "layer": [
              {"data": {"name": "D"},
               "transform": [{"window": [{"op": "row_number", "as": "k"}], "groupby": ["region", "group"], "sort": [{"field": "value"}]}, {"calculate": "(datum.group === 'rpAD' ? -0.2 : 0.2) + [0, -1, 1, -2, 2][datum.k % 5] * 0.055", "as": "off"}],
               "mark": {"type": "point", "filled": false, "size": 70, "strokeWidth": 1.5, "opacity": 1},
               "encoding": {
                 "x": {"field": "region", "type": "nominal", "scale": {"domain": ["Frontal", "Occipital", "Temporal"], "paddingInner": 0, "paddingOuter": 0}, "axis": {"title": null, "labelAngle": 0, "labelFontSize": 14, "tickSize": 5, "labelPadding": 2}},
                 "xOffset": {"field": "off", "type": "quantitative", "scale": {"domain": [-0.5, 0.5], "nice": false}},
                 "y": {"field": "value", "type": "quantitative", "scale": {"domain": [0, 10]}, "axis": {"values": [0, 2, 4, 6, 8, 10], "tickCount": 12, "format": "d", "labelOverlap": false, "title": "580/510 Ratio", "titleFontSize": 14, "titlePadding": 3, "labelFontSize": 14, "tickSize": 5, "labelPadding": 2}},
                 "color": {"field": "group", "type": "nominal", "scale": {"domain": ["rpAD", "spAD"], "range": ["#ff2626", "#1414c8"]}, "legend": {"orient": "none", "legendX": 11, "legendY": 0, "title": null, "symbolType": "circle", "symbolSize": 70, "symbolStrokeWidth": 1.5, "labelFontSize": 13, "labelOffset": 12, "rowPadding": 3, "padding": 0}}
               }},
              {"data": {"name": "Dsum"}, "transform": [{"calculate": "datum.group === 'rpAD' ? -0.2 : 0.2", "as": "off"}],
               "mark": {"type": "rule", "strokeWidth": 3, "color": "black"},
               "encoding": {"x": {"field": "region", "type": "nominal"}, "xOffset": {"field": "off", "type": "quantitative"}, "y": {"field": "lo", "type": "quantitative"}, "y2": {"field": "hi"}}},
              {"data": {"name": "Dsum"}, "transform": [{"calculate": "datum.group === 'rpAD' ? -0.2 : 0.2", "as": "off"}],
               "mark": {"type": "tick", "thickness": 3, "size": 26, "color": "black", "orient": "horizontal"},
               "encoding": {"x": {"field": "region", "type": "nominal"}, "xOffset": {"field": "off", "type": "quantitative"}, "y": {"field": "mean", "type": "quantitative"}}},
              {"data": {"name": "Dsum"}, "transform": [{"calculate": "datum.group === 'rpAD' ? -0.2 : 0.2", "as": "off"}, {"fold": ["lo", "hi"], "as": ["which", "capv"]}],
               "mark": {"type": "tick", "thickness": 3, "size": 14, "color": "black", "orient": "horizontal"},
               "encoding": {"x": {"field": "region", "type": "nominal"}, "xOffset": {"field": "off", "type": "quantitative"}, "y": {"field": "capv", "type": "quantitative"}}},
              {"data": {"name": "Dbr"}, "transform": [{"calculate": "0", "as": "off"}],
               "mark": {"type": "tick", "thickness": 1.3, "size": 36, "color": "#333333", "orient": "horizontal"},
               "encoding": {"x": {"field": "region", "type": "nominal"}, "xOffset": {"field": "off", "type": "quantitative"}, "y": {"field": "level", "type": "quantitative"}}},
              {"data": {"name": "Dbr"}, "transform": [{"calculate": "-0.2", "as": "a"}, {"calculate": "0.2", "as": "b"}, {"fold": ["a", "b"], "as": ["side", "off"]}],
               "mark": {"type": "rule", "strokeWidth": 1.3, "color": "#333333", "yOffset": -3, "y2Offset": 3},
               "encoding": {"x": {"field": "region", "type": "nominal"}, "xOffset": {"field": "off", "type": "quantitative"}, "y": {"field": "level", "type": "quantitative"}, "y2": {"field": "level"}}},
              {"data": {"name": "Dbr"}, "transform": [{"filter": "datum.label !== 'ns'"}, {"calculate": "0", "as": "off"}],
               "mark": {"type": "text", "fontSize": 20, "baseline": "alphabetic", "dy": 2, "color": "black"},
               "encoding": {"x": {"field": "region", "type": "nominal"}, "xOffset": {"field": "off", "type": "quantitative"}, "y": {"field": "level", "type": "quantitative"}, "text": {"field": "label"}}},
              {"data": {"name": "Dbr"}, "transform": [{"filter": "datum.label === 'ns'"}, {"calculate": "0", "as": "off"}],
               "mark": {"type": "text", "fontSize": 14, "baseline": "alphabetic", "dy": -8, "color": "black"},
               "encoding": {"x": {"field": "region", "type": "nominal"}, "xOffset": {"field": "off", "type": "quantitative"}, "y": {"field": "level", "type": "quantitative"}, "text": {"field": "label"}}}
            ]
          },
          {
            "width": 270, "height": 179,
            "title": {"text": "E", "dx": -44, "offset": -7},
            "layer": [
              {"data": {"name": "E"},
               "transform": [{"window": [{"op": "row_number", "as": "k"}], "groupby": ["region", "group"], "sort": [{"field": "value"}]}, {"calculate": "(datum.group === 'rpAD' ? -0.2 : 0.2) + [0, -1, 1, -2, 2][datum.k % 5] * 0.055", "as": "off"}],
               "mark": {"type": "point", "filled": false, "size": 70, "strokeWidth": 1.5, "opacity": 1},
               "encoding": {
                 "x": {"field": "region", "type": "nominal", "scale": {"domain": ["Frontal", "Occipital", "Temporal"], "paddingInner": 0, "paddingOuter": 0}, "axis": {"title": null, "labelAngle": 0, "labelFontSize": 14, "tickSize": 5, "labelPadding": 2}},
                 "xOffset": {"field": "off", "type": "quantitative", "scale": {"domain": [-0.5, 0.5], "nice": false}},
                 "y": {"field": "value", "type": "quantitative", "scale": {"domain": [0, 4]}, "axis": {"values": [0, 1, 2, 3, 4], "tickCount": 12, "format": "d", "labelOverlap": false, "title": "580/500 Ratio", "titleFontSize": 14, "titlePadding": 3, "labelFontSize": 14, "tickSize": 5, "labelPadding": 2}},
                 "color": {"field": "group", "type": "nominal", "scale": {"domain": ["rpAD", "spAD"], "range": ["#ff2626", "#1414c8"]}, "legend": null}
               }},
              {"data": {"name": "Esum"}, "transform": [{"calculate": "datum.group === 'rpAD' ? -0.2 : 0.2", "as": "off"}],
               "mark": {"type": "rule", "strokeWidth": 3, "color": "black"},
               "encoding": {"x": {"field": "region", "type": "nominal"}, "xOffset": {"field": "off", "type": "quantitative"}, "y": {"field": "lo", "type": "quantitative"}, "y2": {"field": "hi"}}},
              {"data": {"name": "Esum"}, "transform": [{"calculate": "datum.group === 'rpAD' ? -0.2 : 0.2", "as": "off"}],
               "mark": {"type": "tick", "thickness": 3, "size": 26, "color": "black", "orient": "horizontal"},
               "encoding": {"x": {"field": "region", "type": "nominal"}, "xOffset": {"field": "off", "type": "quantitative"}, "y": {"field": "mean", "type": "quantitative"}}},
              {"data": {"name": "Esum"}, "transform": [{"calculate": "datum.group === 'rpAD' ? -0.2 : 0.2", "as": "off"}, {"fold": ["lo", "hi"], "as": ["which", "capv"]}],
               "mark": {"type": "tick", "thickness": 3, "size": 14, "color": "black", "orient": "horizontal"},
               "encoding": {"x": {"field": "region", "type": "nominal"}, "xOffset": {"field": "off", "type": "quantitative"}, "y": {"field": "capv", "type": "quantitative"}}},
              {"data": {"name": "Ebr"}, "transform": [{"calculate": "0", "as": "off"}],
               "mark": {"type": "tick", "thickness": 1.3, "size": 36, "color": "#333333", "orient": "horizontal"},
               "encoding": {"x": {"field": "region", "type": "nominal"}, "xOffset": {"field": "off", "type": "quantitative"}, "y": {"field": "level", "type": "quantitative"}}},
              {"data": {"name": "Ebr"}, "transform": [{"calculate": "-0.2", "as": "a"}, {"calculate": "0.2", "as": "b"}, {"fold": ["a", "b"], "as": ["side", "off"]}],
               "mark": {"type": "rule", "strokeWidth": 1.3, "color": "#333333", "yOffset": -3, "y2Offset": 3},
               "encoding": {"x": {"field": "region", "type": "nominal"}, "xOffset": {"field": "off", "type": "quantitative"}, "y": {"field": "level", "type": "quantitative"}, "y2": {"field": "level"}}},
              {"data": {"name": "Ebr"}, "transform": [{"filter": "datum.label !== 'ns'"}, {"calculate": "0", "as": "off"}],
               "mark": {"type": "text", "fontSize": 20, "baseline": "alphabetic", "dy": 2, "color": "black"},
               "encoding": {"x": {"field": "region", "type": "nominal"}, "xOffset": {"field": "off", "type": "quantitative"}, "y": {"field": "level", "type": "quantitative"}, "text": {"field": "label"}}},
              {"data": {"name": "Ebr"}, "transform": [{"filter": "datum.label === 'ns'"}, {"calculate": "0", "as": "off"}],
               "mark": {"type": "text", "fontSize": 14, "baseline": "alphabetic", "dy": -8, "color": "black"},
               "encoding": {"x": {"field": "region", "type": "nominal"}, "xOffset": {"field": "off", "type": "quantitative"}, "y": {"field": "level", "type": "quantitative"}, "text": {"field": "label"}}}
            ]
          }
        ],
        "spacing": 28,
        "resolve": {"scale": {"color": "independent", "x": "independent", "y": "independent", "xOffset": "independent"}, "legend": {"color": "independent"}}
      },
      {
        "hconcat": [
          {
            "width": 270, "height": 179,
            "title": {"text": "F", "dx": -47, "offset": -4},
            "layer": [
              {"data": {"name": "F"},
               "transform": [{"window": [{"op": "row_number", "as": "k"}], "groupby": ["region", "group"], "sort": [{"field": "value"}]}, {"calculate": "(datum.group === 'rpAD' ? -0.2 : 0.2) + [0, -1, 1, -2, 2][datum.k % 5] * 0.055", "as": "off"}],
               "mark": {"type": "point", "filled": false, "size": 70, "strokeWidth": 1.5, "opacity": 1},
               "encoding": {
                 "x": {"field": "region", "type": "nominal", "scale": {"domain": ["Frontal", "Occipital", "Temporal"], "paddingInner": 0, "paddingOuter": 0}, "axis": {"title": null, "labelAngle": 0, "labelFontSize": 14, "tickSize": 5, "labelPadding": 2}},
                 "xOffset": {"field": "off", "type": "quantitative", "scale": {"domain": [-0.5, 0.5], "nice": false}},
                 "y": {"field": "value", "type": "quantitative", "scale": {"domain": [0, 8]}, "axis": {"values": [0, 2, 4, 6, 8], "tickCount": 12, "format": "d", "labelOverlap": false, "title": "550/510 Ratio", "titleFontSize": 14, "titlePadding": 3, "labelFontSize": 14, "tickSize": 5, "labelPadding": 2}},
                 "color": {"field": "group", "type": "nominal", "scale": {"domain": ["rpAD", "spAD"], "range": ["#ff2626", "#1414c8"]}, "legend": null}
               }},
              {"data": {"name": "Fsum"}, "transform": [{"calculate": "datum.group === 'rpAD' ? -0.2 : 0.2", "as": "off"}],
               "mark": {"type": "rule", "strokeWidth": 3, "color": "black"},
               "encoding": {"x": {"field": "region", "type": "nominal"}, "xOffset": {"field": "off", "type": "quantitative"}, "y": {"field": "lo", "type": "quantitative"}, "y2": {"field": "hi"}}},
              {"data": {"name": "Fsum"}, "transform": [{"calculate": "datum.group === 'rpAD' ? -0.2 : 0.2", "as": "off"}],
               "mark": {"type": "tick", "thickness": 3, "size": 26, "color": "black", "orient": "horizontal"},
               "encoding": {"x": {"field": "region", "type": "nominal"}, "xOffset": {"field": "off", "type": "quantitative"}, "y": {"field": "mean", "type": "quantitative"}}},
              {"data": {"name": "Fsum"}, "transform": [{"calculate": "datum.group === 'rpAD' ? -0.2 : 0.2", "as": "off"}, {"fold": ["lo", "hi"], "as": ["which", "capv"]}],
               "mark": {"type": "tick", "thickness": 3, "size": 14, "color": "black", "orient": "horizontal"},
               "encoding": {"x": {"field": "region", "type": "nominal"}, "xOffset": {"field": "off", "type": "quantitative"}, "y": {"field": "capv", "type": "quantitative"}}},
              {"data": {"name": "Fbr"}, "transform": [{"calculate": "0", "as": "off"}],
               "mark": {"type": "tick", "thickness": 1.3, "size": 36, "color": "#333333", "orient": "horizontal"},
               "encoding": {"x": {"field": "region", "type": "nominal"}, "xOffset": {"field": "off", "type": "quantitative"}, "y": {"field": "level", "type": "quantitative"}}},
              {"data": {"name": "Fbr"}, "transform": [{"calculate": "-0.2", "as": "a"}, {"calculate": "0.2", "as": "b"}, {"fold": ["a", "b"], "as": ["side", "off"]}],
               "mark": {"type": "rule", "strokeWidth": 1.3, "color": "#333333", "yOffset": -3, "y2Offset": 3},
               "encoding": {"x": {"field": "region", "type": "nominal"}, "xOffset": {"field": "off", "type": "quantitative"}, "y": {"field": "level", "type": "quantitative"}, "y2": {"field": "level"}}},
              {"data": {"name": "Fbr"}, "transform": [{"filter": "datum.label !== 'ns'"}, {"calculate": "0", "as": "off"}],
               "mark": {"type": "text", "fontSize": 20, "baseline": "alphabetic", "dy": 2, "color": "black"},
               "encoding": {"x": {"field": "region", "type": "nominal"}, "xOffset": {"field": "off", "type": "quantitative"}, "y": {"field": "level", "type": "quantitative"}, "text": {"field": "label"}}}
            ]
          },
          {
            "width": 270, "height": 179,
            "title": {"text": "G", "dx": -43, "offset": -4},
            "layer": [
              {"data": {"name": "G"},
               "transform": [{"window": [{"op": "row_number", "as": "k"}], "groupby": ["region", "group"], "sort": [{"field": "value"}]}, {"calculate": "(datum.group === 'rpAD' ? -0.2 : 0.2) + [0, -1, 1, -2, 2][datum.k % 5] * 0.055", "as": "off"}],
               "mark": {"type": "point", "filled": false, "size": 70, "strokeWidth": 1.5, "opacity": 1},
               "encoding": {
                 "x": {"field": "region", "type": "nominal", "scale": {"domain": ["Frontal", "Occipital", "Temporal"], "paddingInner": 0, "paddingOuter": 0}, "axis": {"title": null, "labelAngle": 0, "labelFontSize": 14, "tickSize": 5, "labelPadding": 2}},
                 "xOffset": {"field": "off", "type": "quantitative", "scale": {"domain": [-0.5, 0.5], "nice": false}},
                 "y": {"field": "value", "type": "quantitative", "scale": {"domain": [0, 4]}, "axis": {"values": [0, 1, 2, 3, 4], "tickCount": 12, "format": "d", "labelOverlap": false, "title": "550/500 Ratio", "titleFontSize": 14, "titlePadding": 3, "labelFontSize": 14, "tickSize": 5, "labelPadding": 2}},
                 "color": {"field": "group", "type": "nominal", "scale": {"domain": ["rpAD", "spAD"], "range": ["#ff2626", "#1414c8"]}, "legend": null}
               }},
              {"data": {"name": "Gsum"}, "transform": [{"calculate": "datum.group === 'rpAD' ? -0.2 : 0.2", "as": "off"}],
               "mark": {"type": "rule", "strokeWidth": 3, "color": "black"},
               "encoding": {"x": {"field": "region", "type": "nominal"}, "xOffset": {"field": "off", "type": "quantitative"}, "y": {"field": "lo", "type": "quantitative"}, "y2": {"field": "hi"}}},
              {"data": {"name": "Gsum"}, "transform": [{"calculate": "datum.group === 'rpAD' ? -0.2 : 0.2", "as": "off"}],
               "mark": {"type": "tick", "thickness": 3, "size": 26, "color": "black", "orient": "horizontal"},
               "encoding": {"x": {"field": "region", "type": "nominal"}, "xOffset": {"field": "off", "type": "quantitative"}, "y": {"field": "mean", "type": "quantitative"}}},
              {"data": {"name": "Gsum"}, "transform": [{"calculate": "datum.group === 'rpAD' ? -0.2 : 0.2", "as": "off"}, {"fold": ["lo", "hi"], "as": ["which", "capv"]}],
               "mark": {"type": "tick", "thickness": 3, "size": 14, "color": "black", "orient": "horizontal"},
               "encoding": {"x": {"field": "region", "type": "nominal"}, "xOffset": {"field": "off", "type": "quantitative"}, "y": {"field": "capv", "type": "quantitative"}}},
              {"data": {"name": "Gbr"}, "transform": [{"calculate": "0", "as": "off"}],
               "mark": {"type": "tick", "thickness": 1.3, "size": 36, "color": "#333333", "orient": "horizontal"},
               "encoding": {"x": {"field": "region", "type": "nominal"}, "xOffset": {"field": "off", "type": "quantitative"}, "y": {"field": "level", "type": "quantitative"}}},
              {"data": {"name": "Gbr"}, "transform": [{"calculate": "-0.2", "as": "a"}, {"calculate": "0.2", "as": "b"}, {"fold": ["a", "b"], "as": ["side", "off"]}],
               "mark": {"type": "rule", "strokeWidth": 1.3, "color": "#333333", "yOffset": -3, "y2Offset": 3},
               "encoding": {"x": {"field": "region", "type": "nominal"}, "xOffset": {"field": "off", "type": "quantitative"}, "y": {"field": "level", "type": "quantitative"}, "y2": {"field": "level"}}},
              {"data": {"name": "Gbr"}, "transform": [{"filter": "datum.label !== 'ns'"}, {"calculate": "0", "as": "off"}],
               "mark": {"type": "text", "fontSize": 20, "baseline": "alphabetic", "dy": 2, "color": "black"},
               "encoding": {"x": {"field": "region", "type": "nominal"}, "xOffset": {"field": "off", "type": "quantitative"}, "y": {"field": "level", "type": "quantitative"}, "text": {"field": "label"}}}
            ]
          }
        ],
        "spacing": 28,
        "resolve": {"scale": {"color": "independent", "x": "independent", "y": "independent", "xOffset": "independent"}, "legend": {"color": "independent"}}
      }
    ]
  }
]
}
